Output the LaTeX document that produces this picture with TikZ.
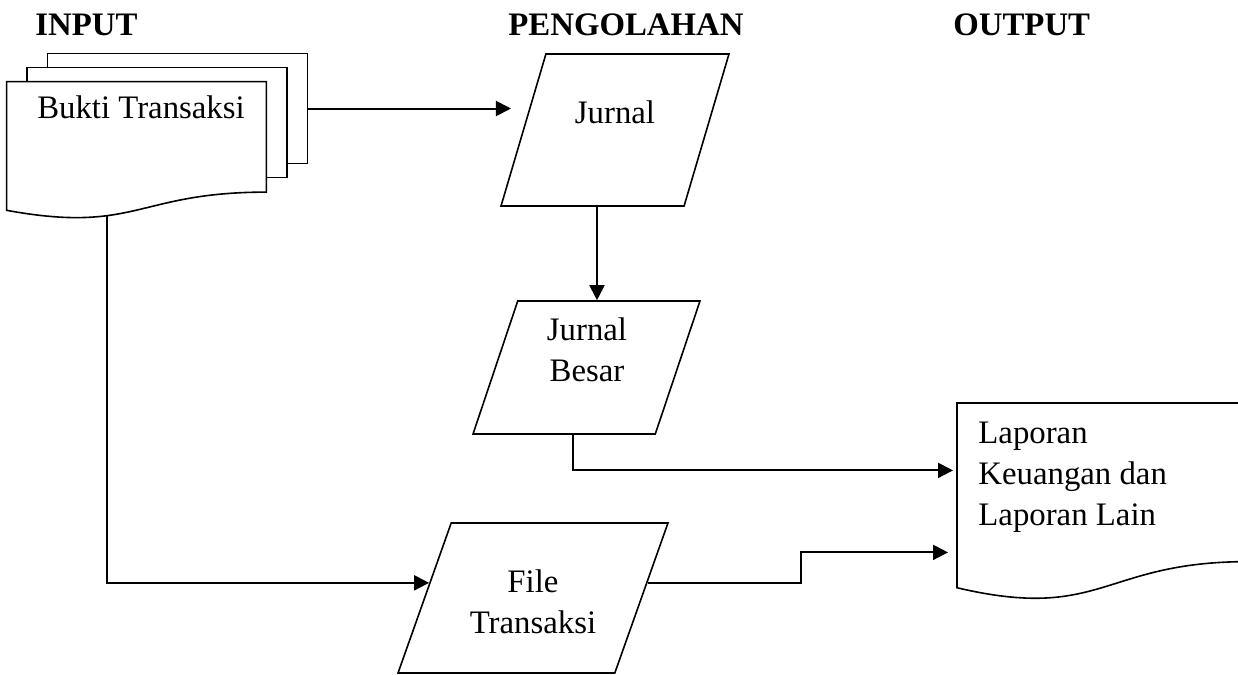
\documentclass[tikz,border=0pt]{standalone}
\usepackage{fontspec}
\setmainfont{Liberation Serif}
\usetikzlibrary{arrows.meta,calc,positioning,shapes.geometric}

% outline of a document sheet with a wavy bottom
\newcommand{\docline}[1]{%
  \draw[outline] (#1.north west) -- (#1.north east)
    -- ($(#1.north east)!0.802!(#1.south east)$)
    .. controls ($(#1.north)!0.802!(#1.south)$) and ($(#1.north)!1.107!(#1.south)$)
    .. ($(#1.north west)!0.934!(#1.south west)$) -- cycle;}

\begin{document}
\begin{tikzpicture}[x=0.5pt,y=-0.5pt,font=\fontsize{16.4}{20.5}\selectfont]
    \tikzset{outline/.style={draw, line width=0.8pt},
    paper/.style={rectangle, inner sep=0pt
    , minimum width=129.5pt
      },
    io/.style={trapezium, draw, line width=0.8pt
    , trapezium left angle=72
    , trapezium right angle=108
    , trapezium stretches=true
      },
    txt/.style={inner sep=0pt, align=center},
    head/.style={inner sep=0pt, anchor=base west, font=\fontsize{16.4}{20.5}\selectfont\bfseries},
    flow/.style={line width=1pt, -{Triangle[length=7.5pt,width=7.5pt]}}
    }

\useasboundingbox (0,0) rectangle (1238,675);

\node [head] (input) at (35,35) {INPUT};
\node [head] (proses) at (508,35) {PENGOLAHAN};
\node [head] (output) at (953,35) {OUTPUT};

% input documents
\node [paper, minimum height=68.5pt] (bukti) at (136.5,150.5) {};
\node [paper, minimum height=54.5pt, anchor=north west] (mid) at ([xshift=10.25pt,yshift=7pt]bukti.north west) {};
\node [paper, minimum height=54.5pt, anchor=north west] (back) at ([xshift=10.25pt,yshift=7pt]mid.north west) {};
\draw[outline] (back.west |- mid.north) -- (back.north west) -- (back.north east) -- (back.south east) -- (back.south east -| mid.east);
\draw[outline] (mid.west |- bukti.north) -- (mid.north west) -- (mid.north east) -- (mid.south east) -- (mid.south east -| bukti.east);
\docline{bukti}
\node [txt, anchor=base] (buktitext) at (141,118) {Bukti Transaksi};

% processing
\node [io, minimum width=114pt, minimum height=76pt] (jurnal) at (615,130) {};
\node [txt, anchor=base] (jurnaltext) at (615,123) {Jurnal};
\node [io, minimum width=113.5pt, minimum height=66.5pt] (jbesar) at (586.5,367.5) {};
\node [txt, anchor=base] (jbesartext) at (587,381) {Jurnal\\Besar};
\node [io, minimum width=135pt, minimum height=75pt] (ftrans) at (533,598) {};
\node [txt, anchor=base] (ftranstext) at (533,633) {File\\Transaksi};

% output document
\node [paper, minimum width=145pt, minimum height=98.5pt, anchor=north west] (laporan) at (957,403) {};
\docline{laporan}
\node [txt, align=left, anchor=base west] (laporantext) at (978,525) {Laporan\\Keuangan dan\\Laporan Lain};

\coordinate (jin) at ($(jurnal.bottom left corner)!0.64!(jurnal.top left corner)$);
\coordinate (ftin) at ($(ftrans.bottom left corner)!0.6!(ftrans.top left corner)$);
\coordinate (ftout) at ($(ftrans.bottom right corner)!0.6!(ftrans.top right corner)$);

 \path[draw, flow, shorten >=9pt] (back.east) -- (back.east -| jin);
 \path[draw, flow] ([xshift=-9pt]jurnal.south) -- ([xshift=-9pt]jurnal.south |- jbesar.north);
 \path[draw, flow, shorten >=2pt] ([xshift=-6.75pt]jbesar.south) |- ([yshift=15.75pt]laporan.west);
 \path[draw, flow] ([xshift=-14.75pt,yshift=1.5pt]bukti.south) |- (ftin);
 \path[draw, flow, shorten >=4.5pt] (ftout) -- ++(153,0) |- ([yshift=-25.25pt]laporan.west);
\end{tikzpicture}
\end{document}
